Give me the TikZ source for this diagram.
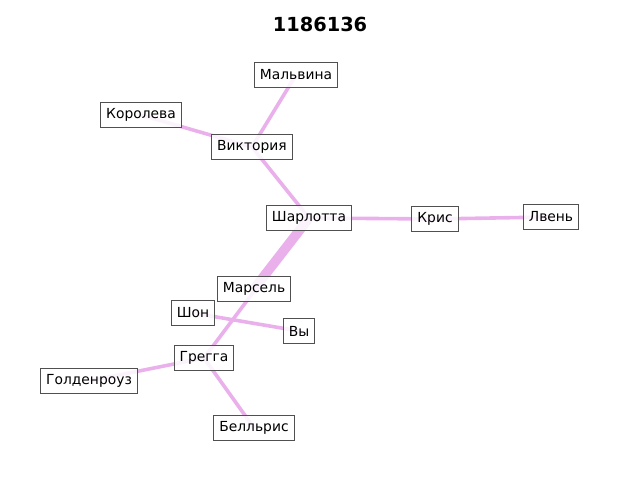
\documentclass[tikz,border=0pt]{standalone}
\usepackage{fontspec}
\setmainfont{DejaVu Sans}
\usetikzlibrary{backgrounds}
\definecolor{edgecol}{RGB}{234,176,236}
\definecolor{boxcol}{RGB}{80,80,80}
\tikzset{every node/.style={rectangle,draw=boxcol,line width=0.7pt,fill=white,fill opacity=0.85,text opacity=1,minimum height=18.5pt,inner xsep=4pt,font=\fontsize{10}{12}\selectfont},
  link/.style={draw=edgecol,line width=2.6pt},
  biglink/.style={draw=edgecol,line width=7pt}}

\begin{document}
\begin{tikzpicture}[x=0.01in,y=-0.01in]
      \useasboundingbox (0,0) rectangle (640,480);
      \node[draw=none,fill=none,font=\fontsize{14}{16}\selectfont\bfseries] (title) at (320,24) {1186136};

      \node (Malvina) at (296,75) {Мальвина};
      \node (Koroleva) at (141,115) {Королева};
      \node (Viktoria) at (252,147) {Виктория};
      \node (Sharlotta) at (309,218) {Шарлотта};
      \node (Kris) at (435,219) {Крис};
      \node (Lven) at (551,217) {Лвень};
      \node (Marsel) at (254,289) {Марсель};
      \node (Shon) at (193,313) {Шон};
      \node (Vy) at (299,331) {Вы};
      \node (Gregga) at (204,358) {Грегга};
      \node (Goldenrouz) at (89,381) {Голденроуз};
      \node (Bellris) at (254,428) {Белльрис};

      \begin{scope}[on background layer]
      \draw[link] (Malvina.center) -- (Viktoria.center);
      \draw[link] (Koroleva.center) -- (Viktoria.center);
      \draw[link] (Viktoria.center) -- (Sharlotta.center);
      \draw[link] (Sharlotta.center) -- (Kris.center);
      \draw[link] (Kris.center) -- (Lven.center);
      \draw[biglink] (Sharlotta.center) -- (Marsel.center);
      \draw[link] (Sharlotta.center) -- (Gregga.center);
      \draw[link] (Shon.center) -- (Vy.center);
      \draw[link] (Gregga.center) -- (Goldenrouz.center);
      \draw[link] (Gregga.center) -- (Bellris.center);
      \end{scope}
    \end{tikzpicture}
\end{document}
